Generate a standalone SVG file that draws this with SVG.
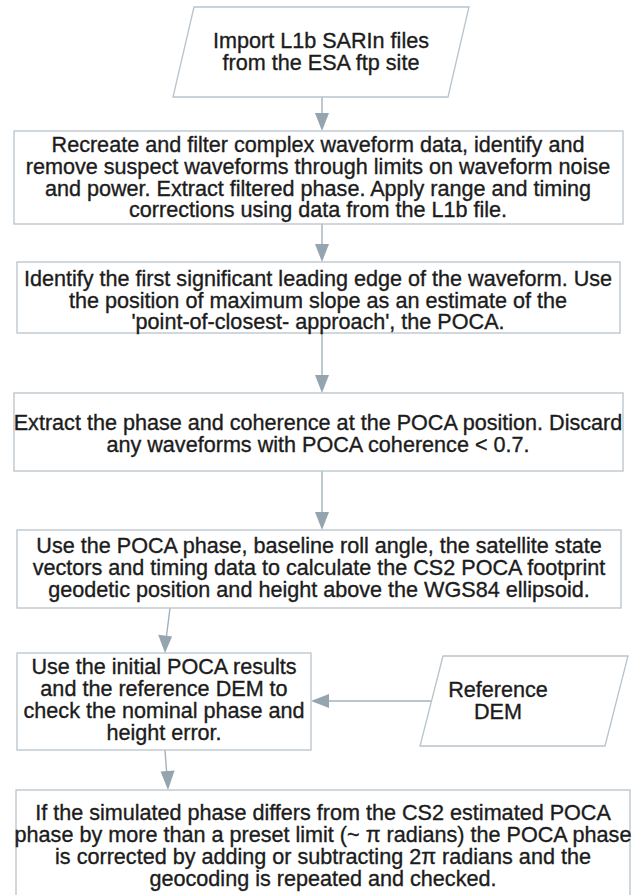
<svg xmlns="http://www.w3.org/2000/svg" width="634" height="895" viewBox="0 0 634 895">
  <style>
    .shape { fill: #ffffff; stroke: #b7c3cb; stroke-width: 1.3; }
    .label { font-family: "Liberation Sans", Arial, sans-serif; font-size: 21.6px; fill: #1c1c1c; stroke: #1c1c1c; stroke-width: 0.35; text-anchor: middle; }
    .link { fill: none; stroke: #a3b1ba; stroke-width: 1.4; }
    .head { fill: #95a5b0; }
  </style>
  <rect width="634" height="895" fill="#ffffff"/>

  <!-- connectors: shafts first, then the filled heads -->
  <g id="connectors">
    <line class="link" x1="322" y1="97" x2="322" y2="120"/>
    <line class="link" x1="322" y1="224" x2="322" y2="250"/>
    <line class="link" x1="322" y1="332" x2="322" y2="380"/>
    <line class="link" x1="322" y1="471" x2="322" y2="518"/>
    <line class="link" x1="170" y1="608" x2="166" y2="640"/>
    <line class="link" x1="433" y1="701" x2="325" y2="701"/>
    <line class="link" x1="165" y1="750" x2="167" y2="777"/>
    <path class="head" d="M315,113 L329,113 L322,131 Z"/>
    <path class="head" d="M315,244 L329,244 L322,262 Z"/>
    <path class="head" d="M315,375 L329,375 L322,393 Z"/>
    <path class="head" d="M315,512 L329,512 L322,530 Z"/>
    <path class="head" d="M158.2,634.8 L172.1,636.4 L165,653 Z"/>
    <path class="head" d="M329,694 L329,708 L311,701 Z"/>
    <path class="head" d="M160.6,771.5 L174.6,770.6 L168,790 Z"/>
  </g>

  <g id="import-l1b">
    <polygon class="shape" points="194,7 469,7 448,97 173,97"/>
    <text class="label" x="321" y="48">Import L1b SARIn files</text>
    <text class="label" x="321" y="70">from the ESA ftp site</text>
  </g>

  <g id="recreate-filter">
    <rect class="shape" x="14" y="131" width="609" height="93"/>
    <text class="label" x="318" y="152">Recreate and filter complex waveform data, identify and</text>
    <text class="label" x="318" y="174">remove suspect waveforms through limits on waveform noise</text>
    <text class="label" x="318" y="196">and power. Extract filtered phase. Apply range and timing</text>
    <text class="label" x="318" y="217">corrections using data from the L1b file.</text>
  </g>

  <g id="leading-edge">
    <rect class="shape" x="17" y="262" width="603" height="71"/>
    <text class="label" x="318" y="286">Identify the first significant leading edge of the waveform. Use</text>
    <text class="label" x="318" y="308">the position of maximum slope as an estimate of the</text>
    <text class="label" x="318" y="329">'point-of-closest- approach', the POCA.</text>
  </g>

  <g id="phase-coherence">
    <rect class="shape" x="14" y="393" width="609" height="78"/>
    <text class="label" x="318" y="430">Extract the phase and coherence at the POCA position. Discard</text>
    <text class="label" x="318" y="452">any waveforms with POCA coherence &lt; 0.7.</text>
  </g>

  <g id="geolocation">
    <rect class="shape" x="17" y="530" width="604" height="78"/>
    <text class="label" x="319" y="553">Use the POCA phase, baseline roll angle, the satellite state</text>
    <text class="label" x="319" y="575">vectors and timing data to calculate the CS2 POCA footprint</text>
    <text class="label" x="319" y="597">geodetic position and height above the WGS84 ellipsoid.</text>
  </g>

  <g id="dem-check">
    <rect class="shape" x="17" y="653" width="294" height="97"/>
    <text class="label" x="164" y="674">Use the initial POCA results</text>
    <text class="label" x="164" y="696">and the reference DEM to</text>
    <text class="label" x="164" y="718">check the nominal phase and</text>
    <text class="label" x="164" y="740">height error.</text>
  </g>

  <g id="reference-dem">
    <polygon class="shape" points="443,656 628,656 605,746 420,746"/>
    <text class="label" x="498" y="697">Reference</text>
    <text class="label" x="498" y="719">DEM</text>
  </g>

  <g id="phase-unwrap">
    <rect class="shape" x="16" y="790" width="614" height="110"/>
    <text class="label" x="323" y="820">If the simulated phase differs from the CS2 estimated POCA</text>
    <text class="label" x="323" y="842">phase by more than a preset limit (~ π radians) the POCA phase</text>
    <text class="label" x="323" y="864">is corrected by adding or subtracting 2π radians and the</text>
    <text class="label" x="323" y="886">geocoding is repeated and checked.</text>
  </g>
</svg>
